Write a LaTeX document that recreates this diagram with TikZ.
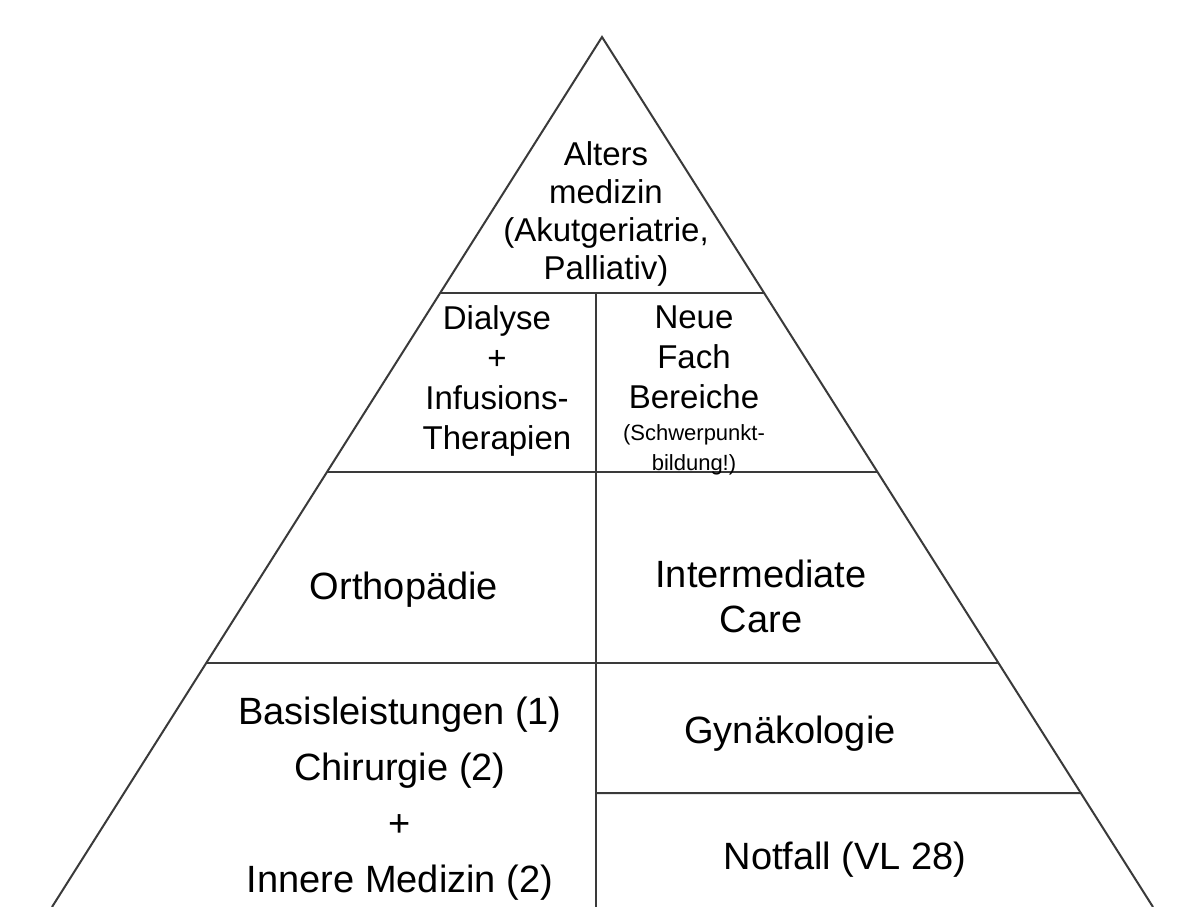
\documentclass[tikz,border=0pt]{standalone}
\usepackage{fontspec}
\setmainfont{Liberation Sans}
\usetikzlibrary{calc}
\definecolor{linegray}{HTML}{3A3A3A}
\tikzset{
  edge/.style={draw=linegray, line width=2pt},
  lbl/.style={align=center, inner sep=0pt, text=black},
}
\begin{document}
\begin{tikzpicture}[x=1pt, y=-1pt]
\useasboundingbox (0,0) rectangle (1184,907);
\fill[white] (0,0) rectangle (1184,907);
% triangle corners (base lies on the lower border)
\coordinate (apex) at (602,37);
\coordinate (bl) at (52,907);
\coordinate (br) at (1153,907);
% points along the edges
\coordinate (l1) at ($(apex)!0.2943!(bl)$);
\coordinate (r1) at ($(apex)!0.2943!(br)$);
\coordinate (l2) at ($(apex)!0.5!(bl)$);
\coordinate (r2) at ($(apex)!0.5!(br)$);
\coordinate (l3) at ($(apex)!0.7195!(bl)$);
\coordinate (r3) at ($(apex)!0.7195!(br)$);
\coordinate (r4) at ($(apex)!0.869!(br)$);
\coordinate (dtop) at (596,293);
\coordinate (dbot) at (596,907);
\coordinate (d4) at (596,793);
\begin{scope}
\clip (0,0) rectangle (1184,907);
\draw[edge, line join=miter] (bl) -- (apex) -- (br);
\draw[edge] (l1) -- (r1);
\draw[edge] (l2) -- (r2);
\draw[edge] (l3) -- (r3);
\draw[edge] (d4) -- (r4);
\draw[edge] (dtop) -- (dbot);
\end{scope}
% labels
\node[lbl, font=\fontsize{33}{38}\selectfont] (alters) at (606,214)
  {Alters\\medizin\\(Akutgeriatrie,\\Palliativ)};
\node[lbl, font=\fontsize{33}{40}\selectfont] (dialyse) at (497,381)
  {Dialyse\\+\\Infusions-\\Therapien};
\node[lbl, font=\fontsize{33}{40}\selectfont] (neue) at (694,357)
  {Neue\\Fach\\Bereiche};
\node[lbl, font=\fontsize{22}{30}\selectfont] (schwer) at (694,450)
  {(Schwerpunkt-\\bildung!)};
\node[lbl, font=\fontsize{38}{45}\selectfont] (ortho) at (404,590) {Orthopädie};
\node[lbl, font=\fontsize{38}{45}\selectfont] (inter) at (761,596) {Intermediate\\Care};
\node[lbl, font=\fontsize{38}{56}\selectfont] (basis) at (400,799)
  {Basisleistungen (1)\\Chirurgie (2)\\+\\Innere Medizin (2)};
\node[lbl, font=\fontsize{38}{45}\selectfont] (gyn) at (790,734) {Gynäkologie};
\node[lbl, font=\fontsize{38}{45}\selectfont] (not) at (845,860) {Notfall (VL 28)};
\end{tikzpicture}
\end{document}
